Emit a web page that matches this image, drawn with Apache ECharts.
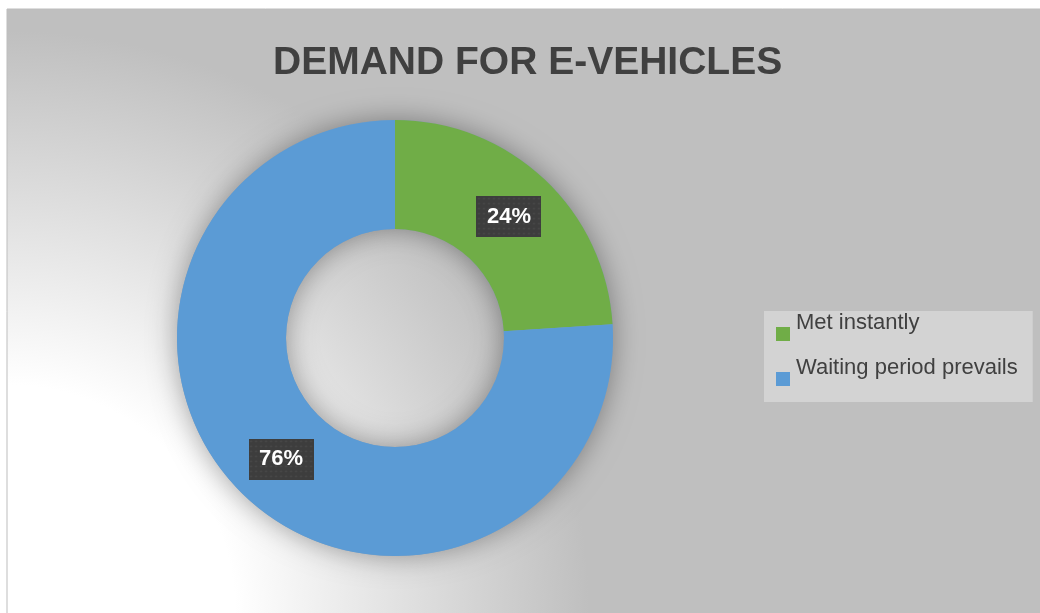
<!DOCTYPE html>
<html>
<head>
<meta charset="utf-8">
<script src="https://cdn.jsdelivr.net/npm/echarts@6/dist/echarts.min.js"></script>
<style>
  html, body { margin: 0; padding: 0; background: #ffffff; }
  #chart { width: 1040px; height: 613px; }
</style>
</head>
<body>
<div id="chart"></div>
<script>
// Demand split for e-vehicles (percent of buyers)
const categories = ['Met instantly', 'Waiting period prevails'];
const shares = [24, 76];
const sliceColors = ['#70ad47', '#5b9bd5'];
const chartTitle = 'DEMAND FOR E-VEHICLES';

// Dark dotted fill for the value callouts
function dottedTile(w, h) {
  const c = document.createElement('canvas');
  c.width = w; c.height = h;
  const g = c.getContext('2d');
  g.fillStyle = '#3d3d3d';
  g.fillRect(0, 0, w, h);
  g.fillStyle = '#4b4b4b';
  for (let y = 2; y < h; y += 5) {
    for (let x = 2; x < w; x += 5) {
      g.beginPath();
      g.arc(x + 0.5, y + 0.5, 1.1, 0, Math.PI * 2);
      g.fill();
    }
  }
  return c;
}
const tile = dottedTile(65, 41);

const total = shares.reduce((a, b) => a + b, 0);
const chart = echarts.init(document.getElementById('chart'), null, { renderer: 'canvas' });

chart.setOption({
  animation: false,
  title: {
    text: chartTitle,
    left: 273,
    top: 43,
    padding: 0,
    textStyle: {
      fontFamily: 'Liberation Sans, Arial, sans-serif',
      fontWeight: 'bold',
      fontSize: 39,
      lineHeight: 40,
      color: '#404040'
    }
  },
  legend: {
    orient: 'vertical',
    left: 764,
    top: 311,
    padding: [1, 15, 1, 12],
    backgroundColor: '#d3d3d3',
    itemGap: 1,
    itemWidth: 14,
    itemHeight: 14,
    icon: 'rect',
    selectedMode: false,
    data: categories,
    formatter: '{t|{name}}',
    textStyle: {
      rich: {
        t: {
          fontFamily: 'Liberation Sans, Arial, sans-serif',
          fontSize: 22,
          lineHeight: 22,
          color: '#404040',
          padding: [0, 0, 22, 1]
        }
      }
    }
  },
  graphic: [
    {
      type: 'rect',
      z: -10,
      silent: true,
      shape: { x: 7, y: 9, width: 1040, height: 610 },
      style: {
        fill: {
          type: 'radial', x: 7, y: 613, r: 600, global: true,
          colorStops: [
            { offset: 0, color: '#ffffff' },
            { offset: 0.38, color: '#ffffff' },
            { offset: 0.97, color: '#bfbfbf' },
            { offset: 1, color: '#bfbfbf' }
          ]
        },
        stroke: '#bdbdbd',
        lineWidth: 1
      }
    }
  ],
  series: [
    {
      // soft glow under the ring
      type: 'pie',
      silent: true,
      z: 1,
      center: [395, 338],
      radius: [109, 218],
      label: { show: false },
      labelLine: { show: false },
      emphasis: { disabled: true },
      itemStyle: {
        color: '#7f9fbf',
        shadowBlur: 28,
        shadowColor: 'rgba(0,0,0,0.36)'
      },
      data: [{ value: total, name: '' }]
    },
    {
      type: 'pie',
      z: 2,
      center: [395, 338],
      radius: [109, 218],
      startAngle: 90,
      clockwise: true,
      emphasis: { disabled: true },
      itemStyle: { borderWidth: 0 },
      label: {
        show: true,
        position: 'inside',
        formatter: p => p.value + '%',
        fontFamily: 'Liberation Sans, Arial, sans-serif',
        fontWeight: 'bold',
        fontSize: 22,
        color: '#ffffff',
        width: 45,
        height: 23,
        lineHeight: 23,
        overflow: 'none',
        align: 'center',
        verticalAlign: 'middle',
        padding: [9, 10, 9, 10],
        backgroundColor: { image: tile },
        shadowColor: 'rgba(0,0,0,0.55)',
        shadowBlur: 5,
        shadowOffsetX: 3,
        shadowOffsetY: 3
      },
      labelLine: { show: false },
      data: categories.map((name, i) => ({
        name,
        value: shares[i],
        itemStyle: { color: sliceColors[i] }
      }))
    }
  ]
});
</script>
</body>
</html>
